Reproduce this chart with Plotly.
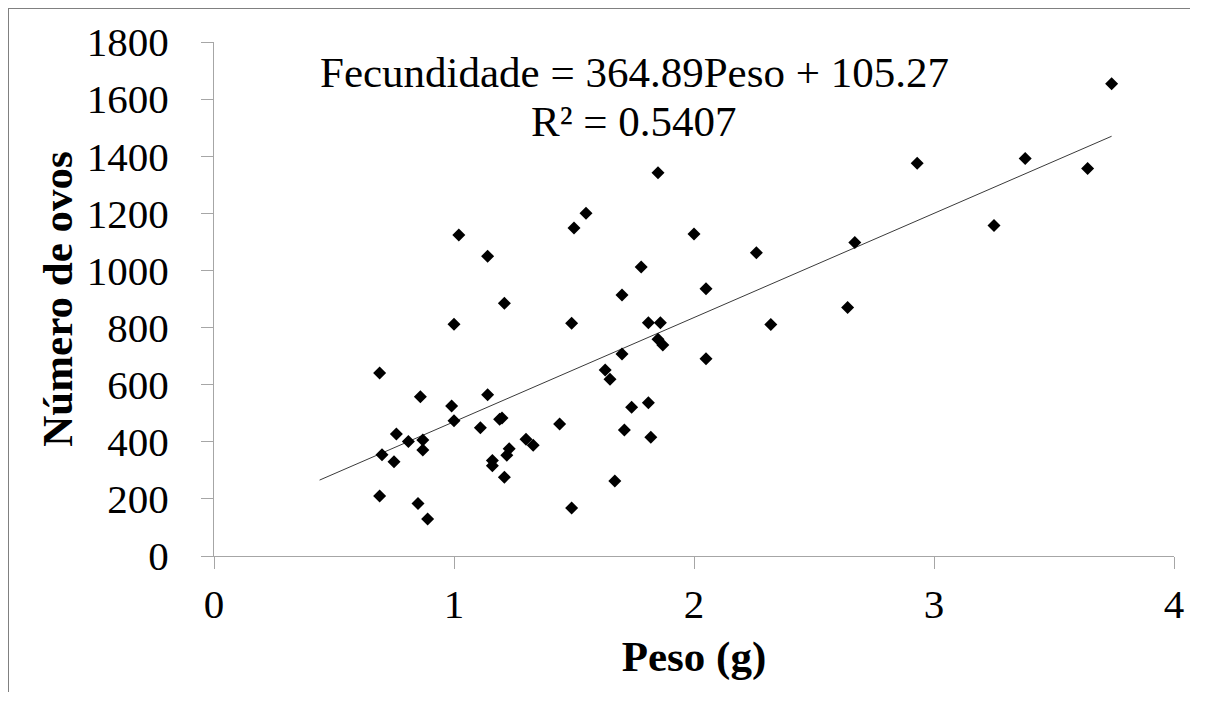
import plotly.graph_objects as go

# Data
peso = [0.69, 0.70, 0.75, 0.76, 0.81, 0.86, 0.87, 0.87, 0.69, 0.85,
        0.89, 1.00, 0.99, 1.00, 1.11, 1.14, 1.21, 1.19, 1.20, 1.16,
        1.16, 1.22, 1.23, 1.21, 1.30, 1.33, 1.44, 1.49, 1.49, 1.63,
        1.65, 1.67, 1.70, 1.70, 1.71, 1.74, 1.81, 1.86, 1.81, 1.82,
        1.85, 1.87, 1.02, 1.14, 1.50, 1.55, 1.85, 2.00, 1.78, 2.05,
        2.26, 2.67, 2.93, 3.25, 3.38, 3.64, 3.74, 2.05, 2.32, 2.64]
ovos = [641, 355, 330, 427, 401, 558, 406, 371, 210, 184,
        130, 812, 525, 474, 449, 565, 885, 479, 483, 334,
        316, 353, 376, 276, 409, 388, 462, 815, 168, 651,
        619, 263, 914, 707, 441, 521, 817, 817, 537, 416,
        759, 739, 1124, 1050, 1149, 1200, 1342, 1128, 1012, 936,
        1062, 1098, 1375, 1157, 1392, 1357, 1654, 691, 811, 870]

slope = 364.89
intercept = 105.27
r2 = 0.5407
trend_x = [0.44, 3.74]
trend_y = [slope * v + intercept for v in trend_x]

x_ticks = [0, 1, 2, 3, 4]
y_ticks = [0, 200, 400, 600, 800, 1000, 1200, 1400, 1600, 1800]

FONT = "Liberation Serif, Times New Roman, serif"
AXIS_GRAY = "#a6a6a6"

fig = go.Figure()
fig.add_trace(go.Scatter(x=trend_x, y=trend_y, mode="lines",
                         line=dict(color="#3a3a3a", width=1),
                         showlegend=False, hoverinfo="skip"))
fig.add_trace(go.Scatter(x=peso, y=ovos, mode="markers",
                         marker=dict(symbol="diamond", size=10, color="black",
                                     line=dict(width=0)),
                         showlegend=False))

# page body has an 8px margin, so figure coords = page coords - 8
OFF = 8
W, H = 1188, 684
ml, mr, mt, mb = 206, 22, 34, 136
pw, ph = W - ml - mr, H - mt - mb

def px2paper_x(px):
    return (px - OFF - ml) / pw

def px2paper_y(py):
    return (H - mb - (py - OFF)) / ph

fig.update_layout(
    width=W, height=H,
    margin=dict(l=ml, r=mr, t=mt, b=mb, autoexpand=False),
    paper_bgcolor="white", plot_bgcolor="white",
    font=dict(family=FONT, color="black", size=40),
    xaxis=dict(range=[0, 4], tickvals=x_ticks, showgrid=False, zeroline=False,
               showline=True, linecolor=AXIS_GRAY, linewidth=1,
               ticks="outside", ticklen=12, tickcolor=AXIS_GRAY, tickwidth=1,
               tickfont=dict(family=FONT, size=41), ticklabelstandoff=0,
               title=dict(text="<b>Peso (g)</b>", font=dict(family=FONT, size=43),
                          standoff=14)),
    yaxis=dict(range=[0, 1800], tickvals=y_ticks, showgrid=False, zeroline=False,
               showline=True, linecolor=AXIS_GRAY, linewidth=1,
               ticks="outside", ticklen=12, tickcolor=AXIS_GRAY, tickwidth=1,
               tickfont=dict(family=FONT, size=41), ticklabelstandoff=24,
               title=dict(text="<b>Número de ovos</b>", font=dict(family=FONT, size=43),
                          standoff=0)),
)

fig.add_annotation(
    text=f"Fecundidade = {slope}Peso + {intercept}",
    xref="paper", yref="paper", x=px2paper_x(634), y=px2paper_y(72),
    xanchor="center", yanchor="middle", showarrow=False,
    font=dict(family=FONT, size=43, color="black"))
fig.add_annotation(
    text=f"R² = {r2}",
    xref="paper", yref="paper", x=px2paper_x(634), y=px2paper_y(121),
    xanchor="center", yanchor="middle", showarrow=False,
    font=dict(family=FONT, size=43, color="black"))

# outer frame: top and left edges only, kept inside the figure area
fig.add_shape(type="line", xref="paper", yref="paper",
              x0=px2paper_x(8), y0=px2paper_y(8), x1=px2paper_x(1190), y1=px2paper_y(8),
              line=dict(color="#808080", width=2))
fig.add_shape(type="line", xref="paper", yref="paper",
              x0=px2paper_x(8), y0=px2paper_y(8), x1=px2paper_x(8), y1=px2paper_y(OFF + H),
              line=dict(color="#808080", width=2))

fig.write_html("out.html", config={"displayModeBar": False})
